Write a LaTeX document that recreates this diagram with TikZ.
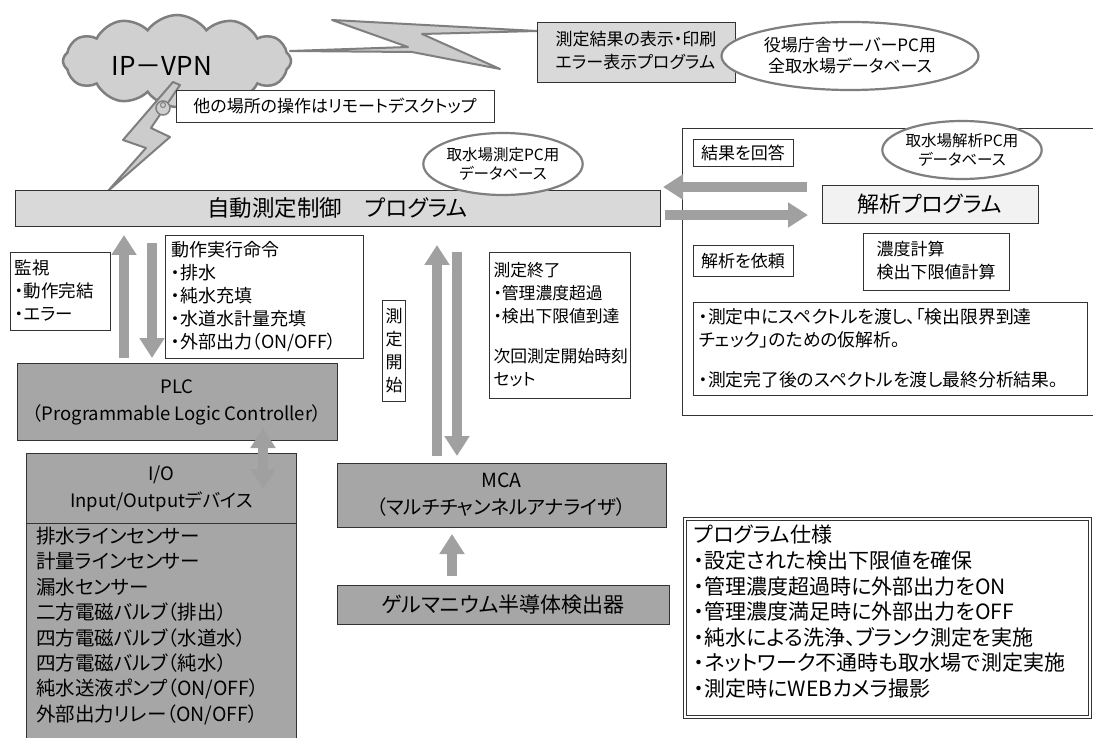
\documentclass[tikz,border=0pt]{standalone}
\usepackage{fontspec}
\setmainfont{Noto Sans CJK JP}[RawFeature=+palt]
\usetikzlibrary{shapes.geometric,shapes.symbols,arrows.meta}
\definecolor{lg}{HTML}{D9D9D9}
\definecolor{vlg}{HTML}{F2F2F2}
\definecolor{mg}{HTML}{A6A6A6}
\definecolor{ag}{HTML}{A0A0A0}
\definecolor{eg}{HTML}{7F7F7F}
\definecolor{cg}{HTML}{D0D0D0}
\definecolor{bd}{HTML}{333333}
\newcommand\fsz[2]{\fontsize{#1}{#2}\selectfont}
\begin{document}
\begin{tikzpicture}[x=1pt,y=-1pt,
  box/.style={draw=bd,line width=0.8pt,inner sep=0pt,font=\fsz{16.5}{22.5}},
  ell/.style={ellipse,draw=eg,line width=2.2pt,fill=white,inner sep=0pt,align=center,font=\fsz{15.5}{19}},
  garrow/.style={draw=ag,line width=10pt,-{Triangle[width=24pt,length=20pt]}},
  gdarrow/.style={draw=ag,line width=10pt,{Triangle[width=24pt,length=20pt]}-{Triangle[width=24pt,length=20pt]}},
  bolt/.style={draw=eg,fill=lg!85!gray,line width=2pt,line join=round}]
\clip (0,0) rectangle (1093,738);
\fill[white] (0,0) rectangle (1093,738);

% cloud
\node[cloud,cloud puffs=12,cloud puff arc=110,aspect=2.4,draw=eg,fill=cg,line width=2.5pt,minimum width=228pt,minimum height=92pt,inner sep=0pt] (vpn) at (177,61) {};
\node[font=\fsz{26}{30},inner sep=0pt] (vpntext) at (162,66) {IP－VPN};

% bolts
\draw[bolt] (332,20) -- (537,31) -- (422,34) -- (500,69) -- (412,52) -- (290,51) -- (408,47) -- cycle;
\draw[bolt] (173,82) -- (123,140) -- (146,148) -- (108,191) -- (170,137) -- (151,128) -- (180,85) -- cycle;
\node[circle,draw=eg,fill=cg,line width=1.5pt,minimum size=14pt,inner sep=0pt] (bub1) at (163,108) {};
\node[circle,draw=eg,fill=cg,line width=1pt,minimum size=5pt,inner sep=0pt] (bub2) at (163,105) {};

% top boxes
\node[box,fill=white,minimum width=318,minimum height=32,font=\fsz{17}{22}] (remote) at (335,106) {他の場所の操作はリモートデスクトップ};
\node[box,fill=lg,minimum width=198,minimum height=60,font=\fsz{17}{23}] (disp) at (636,52) {\begin{tabular}{@{}l@{}}測定結果の表示・印刷\\エラー表示プログラム\end{tabular}};
\node[ell,minimum width=257,minimum height=68,font=\fsz{17}{21}] (yakuba) at (850,56) {役場庁舎サーバーPC用\\全取水場データベース};

% right panel
\node[draw=bd,line width=0.8pt,minimum width=430,minimum height=287,anchor=north west,inner sep=0pt] (panel) at (682,128) {};
\node[box,fill=white,minimum width=100,minimum height=27,font=\fsz{17}{22}] (kaito) at (743,153) {結果を回答};
\node[box,fill=vlg,minimum width=216,minimum height=38,font=\fsz{22}{25}] (kaiseki) at (930,204) {解析プログラム};
\node[ell,minimum width=122,minimum height=58] (kaidb) at (962,150) {取水場解析PC用\\データベース};
\node[box,fill=white,minimum width=100,minimum height=31,font=\fsz{17}{22}] (irai) at (743,261) {解析を依頼};
\node[box,fill=white,minimum width=146,minimum height=57,font=\fsz{17}{23}] (nodo) at (936,262) {\begin{tabular}{@{}l@{}}濃度計算\\検出下限値計算\end{tabular}};
\node[box,fill=white,minimum width=394,minimum height=93,anchor=north west] (kari) at (693,302) {};
\node[anchor=north west,inner sep=0pt,align=left,font=\fsz{17.8}{23}] (karitext) at (699,308) {・測定中にスペクトルを渡し、「検出限界到達\\チェック」のための仮解析。\\[17pt]・測定完了後のスペクトルを渡し最終分析結果。};

% main program
\node[box,fill=lg,minimum width=645,minimum height=36,font=\fsz{22.5}{26}] (main) at (337.5,208) {自動測定制御　プログラム};
\node[ell,minimum width=120,minimum height=62] (sokudb) at (503,164) {取水場測定PC用\\データベース};

% arrows main <-> kaiseki
\coordinate (k1s) at (807,187);
\coordinate (k1e) at (663,187);
\coordinate (k2s) at (665,215);
\coordinate (k2e) at (808,215);
\draw[garrow] (k1s) -- (k1e);
\draw[garrow] (k2s) -- (k2e);

% left column
\node[box,fill=white,minimum width=100,minimum height=78,text width=90,align=left,font=\fsz{17.5}{23}] (kanshi) at (60,291) {監視\\・動作完結\\・エラー};
\node[box,fill=white,minimum width=198,minimum height=123,text width=186,align=left,font=\fsz{18}{23}] (meirei) at (264,296.5) {動作実行命令\\・排水\\・純水充填\\・水道水計量充填\\・外部出力（ON/OFF）};
\node[box,fill=mg,minimum width=320,minimum height=77,align=center,font=\fsz{18.5}{27}] (plc) at (177,402) {PLC\\（Programmable Logic Controller）};
\coordinate (a1s) at (124,358);
\coordinate (a1e) at (124,235);
\coordinate (a2s) at (152,243);
\coordinate (a2e) at (152,358);
\draw[garrow] (a1s) -- (a1e);
\draw[garrow] (a2s) -- (a2e);

% I/O
\node[box,fill=mg,minimum width=270,minimum height=300,anchor=north west] (iolist) at (26,453) {};
\node[box,fill=mg,minimum width=270,minimum height=70,anchor=north west,align=center,font=\fsz{18.5}{27}] (io) at (26,453) {I/O\\Input/Outputデバイス};
\node[anchor=north west,inner sep=0pt,align=left,font=\fsz{19.5}{25.4}] (iotext) at (36,527) {排水ラインセンサー\\計量ラインセンサー\\漏水センサー\\二方電磁バルブ（排出）\\四方電磁バルブ（水道水）\\四方電磁バルブ（純水）\\純水送液ポンプ（ON/OFF）\\外部出力リレー（ON/OFF）};
\coordinate (d1) at (263,428);
\coordinate (d2) at (263,489);
\draw[gdarrow] (d1) -- (d2);

% middle column
\node[box,fill=white,minimum width=23,minimum height=101,align=center,font=\fsz{17}{23}] (kaishi) at (394,350.5) {測\\定\\開\\始};
\node[box,fill=white,minimum width=141,minimum height=146,text width=133,align=left,font=\fsz{16.8}{23}] (shuryo) at (560,325) {測定終了\\・管理濃度超過\\・検出下限値到達\\[17pt]次回測定開始時刻\\セット};
\coordinate (m1s) at (437,456);
\coordinate (m1e) at (437,245);
\coordinate (m2s) at (457,252);
\coordinate (m2e) at (457,456);
\draw[garrow] (m1s) -- (m1e);
\draw[garrow] (m2s) -- (m2e);
\node[box,fill=mg,minimum width=329,minimum height=64,align=center,font=\fsz{19.5}{27}] (mca) at (501.5,495) {MCA\\（マルチチャンネルアナライザ）};
\node[box,fill=mg,minimum width=332,minimum height=39,font=\fsz{21}{24}] (ge) at (503,604.5) {ゲルマニウム半導体検出器};
\coordinate (g1) at (452,576);
\coordinate (g2) at (452,534);
\draw[garrow] (g1) -- (g2);

% spec
\node[draw=bd,line width=0.7pt,double=white,double distance=2pt,minimum width=405,minimum height=198,inner sep=0pt] (spec) at (887.5,618) {};
\node[anchor=north west,inner sep=0pt,align=left,font=\fsz{21}{25.6}] (spectext) at (694,525) {プログラム仕様\\・設定された検出下限値を確保\\・管理濃度超過時に外部出力をON\\・管理濃度満足時に外部出力をOFF\\・純水による洗浄、ブランク測定を実施\\・ネットワーク不通時も取水場で測定実施\\・測定時にWEBカメラ撮影};
\end{tikzpicture}
\end{document}
